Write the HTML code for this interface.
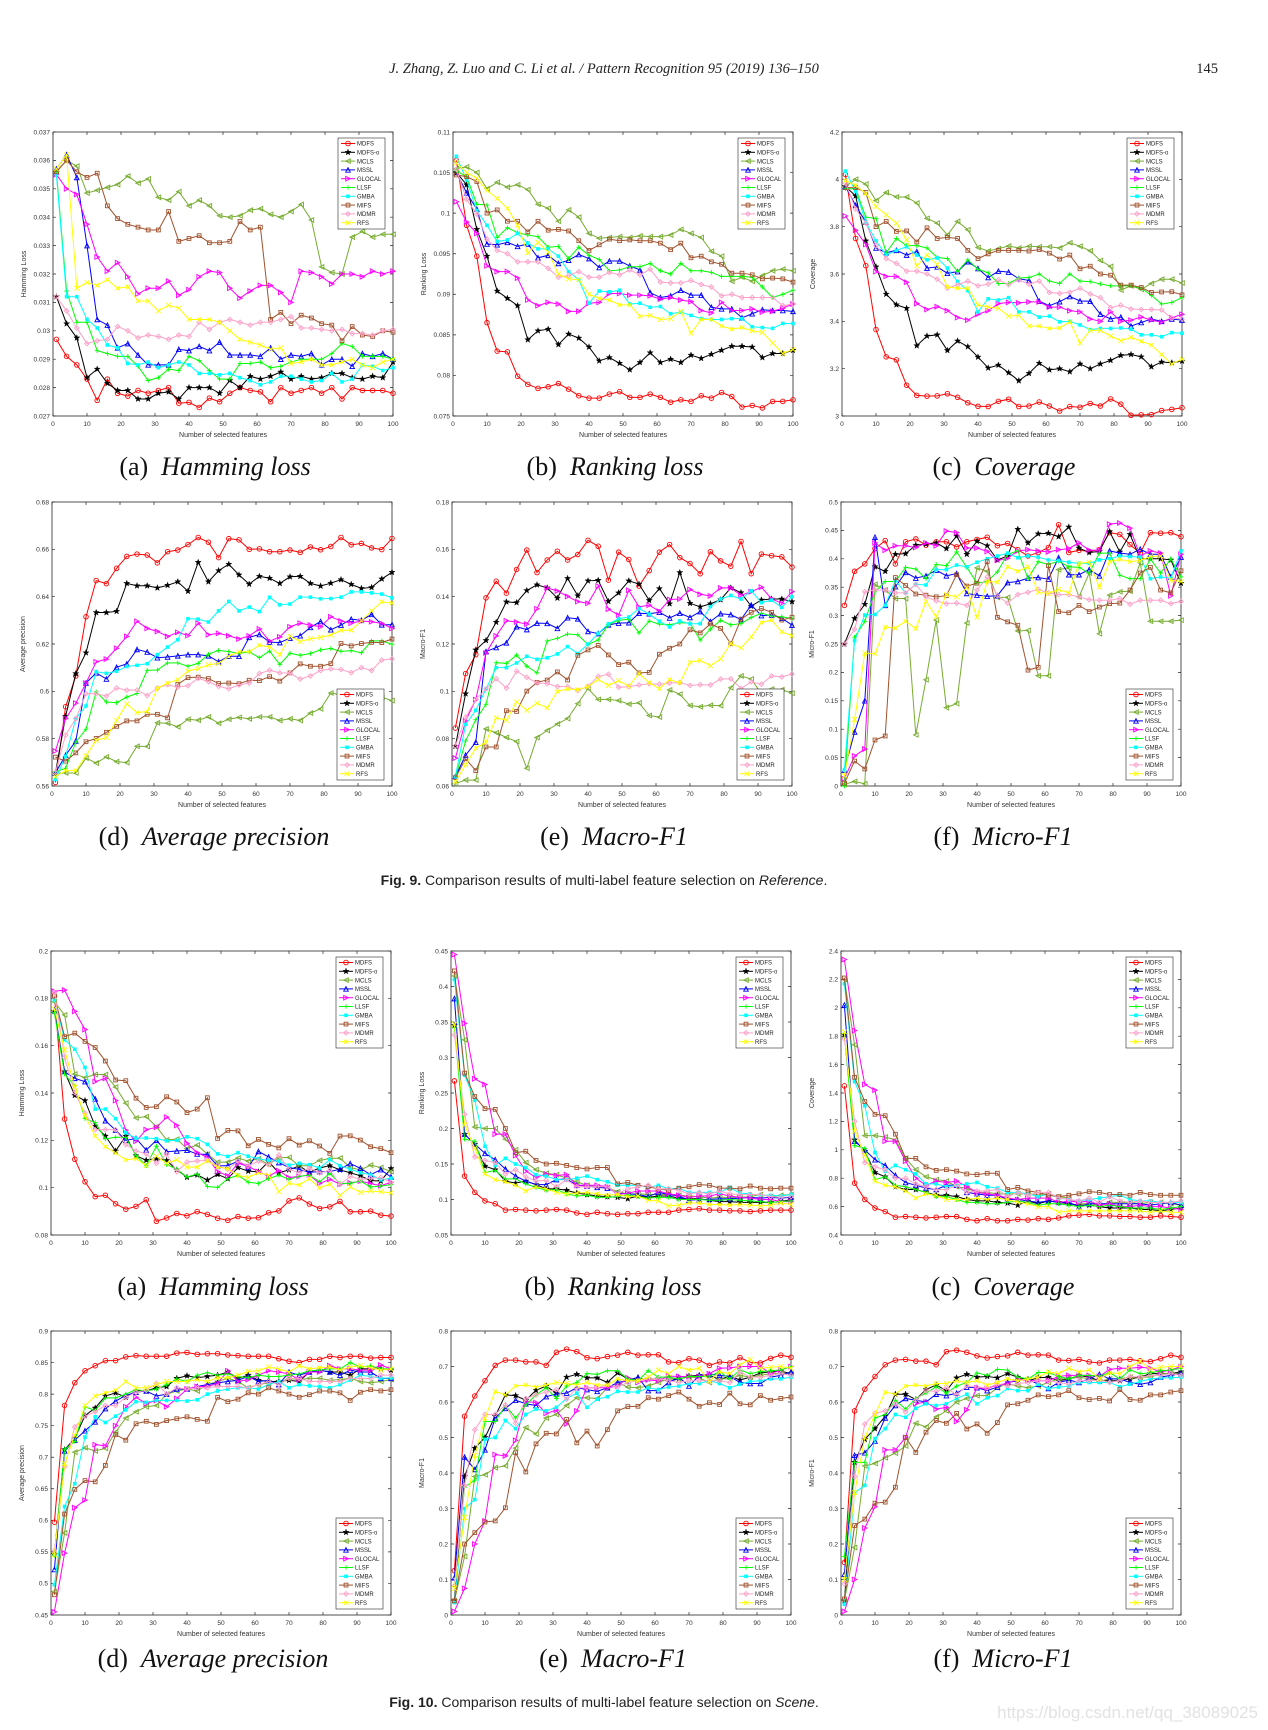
<!DOCTYPE html>
<html><head><meta charset="utf-8"><style>
html,body{margin:0;padding:0;background:#fff}
svg{display:block}
</style></head><body>
<svg id="page" xmlns="http://www.w3.org/2000/svg" width="1268" height="1730" viewBox="0 0 1268 1730">
<text x="604" y="73" text-anchor="middle" font-family="Liberation Serif, serif" font-size="14.5" font-style="italic" fill="#222">J. Zhang, Z. Luo and C. Li et al. / Pattern Recognition 95 (2019) 136–150</text>
<text x="1218" y="73" text-anchor="end" font-family="Liberation Serif, serif" font-size="14.5" fill="#222">145</text>
<text x="604" y="885" text-anchor="middle" font-family="Liberation Sans, sans-serif" font-size="14" fill="#222"><tspan font-weight="bold">Fig. 9.</tspan> Comparison results of multi-label feature selection on <tspan font-style="italic">Reference</tspan>.</text>
<text x="604" y="1707" text-anchor="middle" font-family="Liberation Sans, sans-serif" font-size="14" fill="#222"><tspan font-weight="bold">Fig. 10.</tspan> Comparison results of multi-label feature selection on <tspan font-style="italic">Scene</tspan>.</text>
<text x="1258" y="1718" text-anchor="end" font-family="Liberation Sans, sans-serif" font-size="17" fill="#e2e2e2">https://blog.csdn.net/qq_38089025</text>
<g id="charts"></g>
</svg>
<script>
const xValues = [1,4,7,10,13,16,19,22,25,28,31,34,37,40,43,46,49,52,55,58,61,64,67,70,73,76,79,82,85,88,91,94,97,100];
const seriesNames = ["MDFS","MDFS-o","MCLS","MSSL","GLOCAL","LLSF","GMBA","MIFS","MDMR","RFS"];
const seriesColors = ["#ff0000","#000000","#77ac30","#0000ff","#ff00ff","#00ff00","#00ffff","#a0522d","#ffa0c8","#ffff00"];
const seriesMarkers = ["circle","star","ltri","utri","rtri","plus","fsquare","square","diamond","x"];
const xTicks = [0,10,20,30,40,50,60,70,80,90,100];

// Fig 9 (a) Hamming loss
const f9aTicks = [0.027,0.028,0.029,0.03,0.031,0.032,0.033,0.034,0.035,0.036,0.037];
const f9a = [
[.0297,.0291,.0288,.0283,.02755,.0283,.0278,.0277,.0279,.0278,.0279,.0280,.02745,.02748,.0273,.02763,.0275,.0278,.0280,.0279,.02785,.0275,.0280,.0278,.0279,.0280,.0278,.0280,.0276,.0280,.0279,.0279,.0279,.0278],
[.0312,.03025,.02975,.02835,.02865,.02815,.0279,.0279,.0276,.0276,.0278,.02785,.0276,.0280,.0280,.0280,.0278,.02825,.0280,.0284,.0283,.0284,.02855,.0283,.0284,.0283,.02835,.0285,.0285,.02835,.0283,.0284,.02835,.0289],
[.0356,.0360,.0358,.03485,.03495,.03505,.03515,.03545,.0352,.03535,.0347,.0346,.0349,.0344,.0346,.0344,.03405,.0340,.03405,.03425,.0343,.0341,.0340,.0342,.03445,.0339,.03225,.03205,.0320,.0333,.0335,.0333,.0334,.0334],
[.0357,.0362,.0354,.0330,.0304,.0302,.0294,.02955,.02915,.0288,.0288,.0288,.02935,.0293,.02945,.0293,.0296,.02915,.02915,.02915,.0291,.0294,.0290,.02915,.0291,.0292,.0288,.0290,.0290,.02875,.0292,.0291,.0292,.0290],
[.0355,.0350,.0348,.03375,.0326,.0321,.0324,.0319,.0313,.0315,.0315,.03175,.03125,.03145,.0319,.0321,.03205,.0315,.03115,.0314,.0316,.0316,.03135,.0310,.0321,.03205,.0319,.03165,.0320,.0320,.0319,.0321,.0320,.0321],
[.0356,.0314,.0303,.0303,.0293,.0292,.0291,.0291,.02875,.02825,.02835,.02865,.0286,.0291,.02895,.0286,.0283,.0283,.02885,.02885,.0289,.0287,.02875,.0289,.0290,.0290,.0290,.0292,.02955,.02945,.0291,.0291,.0291,.0290],
[.0355,.0312,.0312,.0304,.0301,.0295,.0294,.02885,.0288,.0289,.0287,.0288,.0289,.0288,.0285,.0285,.02845,.0285,.02835,.02825,.0281,.0282,.0284,.0284,.0283,.0282,.02825,.0285,.0282,.0283,.0288,.02875,.0286,.0287],
[.0356,.0360,.0356,.0354,.03555,.0344,.03395,.03375,.03365,.03355,.03355,.0342,.03315,.03325,.03335,.0331,.0331,.03315,.03385,.03355,.03365,.0304,.03065,.03025,.03055,.03045,.03025,.0302,.02965,.03015,.02985,.0298,.0300,.02995],
[.0312,.0307,.0301,.02955,.02965,.0297,.03015,.0300,.02975,.02985,.0298,.0297,.02985,.0298,.0303,.03005,.0303,.0304,.0303,.0302,.0303,.0303,.0304,.0305,.0301,.0301,.03005,.0300,.03005,.0299,.0299,.02985,.0300,.03005],
[.0357,.0362,.0315,.0317,.0316,.0318,.0315,.03155,.03105,.03105,.0307,.0309,.0308,.0304,.0304,.0304,.0303,.0300,.0297,.0296,.0295,.02935,.0294,.02885,.0289,.0290,.0288,.0288,.0289,.0290,.0288,.0287,.0289,.0290]];

// Fig 9 (b) Ranking loss
const f9bTicks = [0.075,0.08,0.085,0.09,0.095,0.1,0.105,0.11];
const f9b = [
[.1065,.0985,.0947,.0865,.0830,.0829,.0799,.0789,.0784,.0786,.0790,.0783,.0775,.0772,.0772,.0777,.0780,.0773,.0773,.0777,.0773,.0767,.0770,.0768,.0775,.0772,.0779,.0774,.0761,.0763,.0760,.0768,.0768,.0770],
[.1050,.1035,.0980,.0947,.0904,.0895,.0886,.0844,.0855,.0857,.0838,.0851,.0846,.0835,.0818,.0822,.0815,.0807,.0816,.0828,.0816,.0820,.0816,.0825,.0821,.0826,.0831,.0836,.0836,.0835,.0822,.0827,.0827,.0831],
[.1055,.1057,.1050,.1030,.1038,.1032,.1035,.1029,.1011,.1006,.0990,.1004,.0995,.0975,.0969,.0970,.0971,.0970,.0972,.0971,.0971,.0973,.0980,.0975,.0970,.0953,.0947,.0916,.0921,.0916,.0923,.0929,.0931,.0929],
[.1050,.1025,.1005,.0962,.0961,.0964,.0959,.0962,.0945,.0948,.0938,.0942,.0949,.0944,.0933,.0941,.0941,.0935,.0930,.0902,.0896,.0898,.0905,.0899,.0899,.0884,.0882,.0882,.0871,.0876,.0881,.0880,.0880,.0879],
[.1014,.0989,.0975,.0935,.0928,.0928,.0920,.0893,.0886,.0890,.0888,.0879,.0879,.0889,.0890,.0901,.0901,.0899,.0899,.0898,.0894,.0896,.0893,.0891,.0880,.0877,.0890,.0880,.0880,.0882,.0878,.0879,.0883,.0888],
[.1052,.1045,.1011,.1010,.0970,.0982,.0976,.0973,.0971,.0958,.0959,.0944,.0958,.0948,.0943,.0929,.0930,.0934,.0934,.0938,.0929,.0925,.0938,.0929,.0929,.0927,.0922,.0922,.0922,.0921,.0909,.0896,.0900,.0905],
[.1070,.1041,.1003,.0985,.0965,.0967,.0975,.0963,.0956,.0956,.0947,.0928,.0918,.0889,.0904,.0903,.0905,.0888,.0889,.0884,.0885,.0876,.0878,.0874,.0870,.0869,.0869,.0870,.0870,.0860,.0859,.0858,.0864,.0864],
[.1047,.1045,.1039,.1000,.1004,.0990,.0990,.0977,.0990,.0979,.0980,.0978,.0966,.0954,.0961,.0968,.0966,.0967,.0966,.0966,.0963,.0955,.0963,.0945,.0947,.0940,.0937,.0926,.0926,.0924,.0919,.0920,.0919,.0915],
[.1054,.1017,.0999,.0968,.0954,.0950,.0940,.0940,.0940,.0932,.0921,.0923,.0928,.0921,.0921,.0927,.0924,.0930,.0924,.0931,.0915,.0914,.0914,.0917,.0912,.0909,.0898,.0900,.0896,.0896,.0896,.0896,.0886,.0888],
[.1062,.1050,.1043,.1028,.1018,.1006,.0985,.0951,.0964,.0952,.0925,.0919,.0918,.0900,.0895,.0893,.0887,.0887,.0873,.0874,.0869,.0870,.0879,.0852,.0869,.0869,.0861,.0857,.0859,.0855,.0853,.0840,.0827,.0832]];

// Fig 9 (c) Coverage
const f9cTicks = [3,3.2,3.4,3.6,3.8,4,4.2];
const f9c = [
[4.02,3.75,3.635,3.365,3.25,3.237,3.13,3.087,3.084,3.085,3.094,3.079,3.056,3.041,3.04,3.062,3.071,3.04,3.042,3.059,3.042,3.021,3.04,3.037,3.053,3.042,3.072,3.05,3.003,3.005,3.006,3.023,3.028,3.035],
[3.97,3.93,3.74,3.63,3.515,3.47,3.455,3.297,3.338,3.343,3.277,3.317,3.293,3.249,3.203,3.215,3.183,3.149,3.18,3.223,3.195,3.2,3.187,3.22,3.2,3.22,3.235,3.256,3.26,3.25,3.208,3.228,3.225,3.232],
[3.97,4.0,3.98,3.91,3.944,3.926,3.925,3.9,3.835,3.815,3.765,3.822,3.787,3.712,3.697,3.707,3.718,3.71,3.717,3.715,3.715,3.71,3.732,3.717,3.698,3.657,3.632,3.532,3.55,3.535,3.56,3.578,3.578,3.562],
[3.97,3.89,3.82,3.71,3.69,3.70,3.68,3.695,3.625,3.63,3.603,3.61,3.652,3.623,3.585,3.612,3.608,3.58,3.573,3.485,3.466,3.483,3.505,3.486,3.485,3.43,3.41,3.418,3.38,3.395,3.41,3.40,3.41,3.405],
[3.845,3.785,3.725,3.61,3.59,3.59,3.565,3.475,3.45,3.462,3.445,3.416,3.405,3.43,3.445,3.475,3.48,3.478,3.482,3.482,3.46,3.46,3.445,3.44,3.41,3.40,3.44,3.40,3.405,3.418,3.405,3.396,3.415,3.43],
[3.96,3.96,3.84,3.835,3.69,3.75,3.72,3.72,3.71,3.67,3.665,3.61,3.66,3.62,3.605,3.56,3.56,3.583,3.585,3.60,3.57,3.56,3.60,3.57,3.568,3.558,3.55,3.55,3.55,3.54,3.51,3.473,3.48,3.50],
[4.035,3.95,3.82,3.74,3.68,3.70,3.715,3.68,3.66,3.668,3.625,3.568,3.53,3.44,3.495,3.49,3.5,3.44,3.44,3.418,3.422,3.398,3.40,3.385,3.365,3.37,3.37,3.372,3.367,3.343,3.343,3.335,3.352,3.35],
[3.965,3.965,3.945,3.80,3.822,3.78,3.782,3.735,3.795,3.75,3.755,3.75,3.70,3.665,3.685,3.70,3.70,3.70,3.697,3.703,3.688,3.663,3.68,3.622,3.633,3.60,3.595,3.553,3.553,3.543,3.522,3.524,3.525,3.512],
[3.985,3.875,3.815,3.72,3.665,3.645,3.612,3.612,3.60,3.578,3.54,3.555,3.57,3.55,3.557,3.575,3.555,3.575,3.557,3.57,3.522,3.518,3.523,3.54,3.516,3.50,3.458,3.468,3.452,3.45,3.45,3.448,3.413,3.41],
[3.995,3.975,3.94,3.885,3.85,3.815,3.745,3.635,3.68,3.64,3.545,3.54,3.54,3.47,3.46,3.455,3.422,3.425,3.38,3.38,3.37,3.372,3.398,3.308,3.362,3.362,3.338,3.318,3.332,3.316,3.30,3.26,3.22,3.24]];

// Fig 9 (d) Average precision
const f9dTicks = [0.56,0.58,0.6,0.62,0.64,0.66,0.68];
const f9d = [
[.5615,.5935,.6065,.6315,.6468,.6455,.652,.657,.658,.6576,.6543,.659,.6597,.662,.665,.663,.6565,.6645,.664,.66,.6602,.659,.659,.6597,.6587,.661,.6598,.6612,.665,.6619,.6625,.6606,.6599,.6646],
[.5655,.5895,.6075,.6163,.6333,.6333,.6338,.6456,.6446,.6446,.6437,.6448,.6463,.6423,.6545,.6463,.6510,.6537,.6492,.6453,.6486,.6478,.6456,.6484,.6486,.6456,.6445,.6457,.6472,.6452,.6435,.6439,.6475,.6503],
[.5655,.5655,.5655,.5718,.5697,.5723,.5703,.5699,.5768,.5767,.5867,.5865,.585,.5882,.5878,.5892,.5865,.5882,.589,.5884,.5892,.5892,.5877,.5884,.5877,.5908,.5926,.5993,.5985,.598,.597,.5975,.5975,.5961],
[.5655,.573,.579,.6035,.6078,.6052,.6102,.6116,.6177,.6166,.6142,.6145,.615,.6155,.6155,.615,.6125,.6148,.6148,.6228,.624,.6208,.6206,.6225,.6235,.627,.6295,.626,.628,.6305,.63,.6325,.6281,.6282],
[.5748,.5885,.595,.6035,.6125,.6136,.6182,.6232,.6296,.6266,.6253,.6232,.6249,.6236,.6288,.6239,.6245,.6235,.6221,.6234,.6264,.6212,.623,.6273,.6288,.628,.6273,.6315,.6297,.6288,.6297,.6294,.6287,.6266],
[.566,.5675,.5785,.584,.5998,.5955,.5952,.5976,.5991,.6089,.609,.612,.612,.6106,.6118,.6157,.6173,.6168,.616,.6167,.6142,.617,.6113,.6161,.6152,.616,.6175,.6181,.6169,.6172,.6163,.6213,.6213,.6199],
[.5628,.5725,.5885,.5938,.6083,.6076,.6085,.6105,.611,.6117,.6155,.6187,.6218,.6307,.6305,.6293,.634,.638,.634,.6356,.6337,.6397,.6366,.6369,.6398,.6398,.6391,.6392,.6398,.642,.642,.6416,.6411,.6395],
[.5722,.5705,.574,.5787,.5801,.5827,.5852,.5875,.5875,.5903,.5903,.5888,.603,.6058,.606,.6054,.6033,.6035,.6032,.6047,.6045,.6062,.6043,.6078,.6116,.6106,.6106,.6117,.6202,.6192,.6202,.6207,.6206,.6221],
[.5658,.5815,.5885,.599,.599,.598,.6014,.6005,.6005,.5982,.6014,.6028,.6018,.6024,.6055,.6041,.6021,.6011,.6027,.6035,.6075,.6089,.6078,.6077,.6052,.6065,.6088,.6095,.6092,.6079,.61,.6088,.6132,.6137],
[.564,.5665,.5665,.5728,.5793,.5805,.5877,.5947,.591,.5915,.6013,.6035,.6049,.6086,.6096,.6112,.6118,.6148,.6167,.6167,.6195,.6188,.6155,.6233,.621,.6222,.6228,.6238,.6258,.6258,.6298,.634,.6378,.6373]];

// Fig 9 (e) Macro-F1
const f9eTicks = [0.06,0.08,0.1,0.12,0.14,0.16,0.18];
const f9e = [
[.0845,.1075,.1155,.1395,.1465,.1415,.1515,.1597,.1502,.1555,.1592,.1555,.1578,.1638,.1613,.1470,.1588,.1557,.1445,.1510,.1588,.1620,.1565,.1540,.1497,.1590,.1551,.1529,.1633,.1497,.1580,.1573,.1568,.1525],
[.0768,.0990,.1175,.1215,.1292,.1378,.1375,.1426,.1450,.1437,.1394,.1477,.1404,.1467,.1469,.1380,.1416,.1467,.1453,.1384,.1434,.1370,.1502,.1372,.1357,.1370,.1387,.1437,.1417,.1360,.1386,.1390,.1390,.1379],
[.0610,.0625,.0625,.0841,.0825,.0805,.0788,.0675,.0805,.0835,.0862,.0885,.0948,.1012,.0966,.0966,.0961,.0946,.0951,.0898,.0891,.1006,.0988,.0940,.0935,.0941,.0939,.1015,.1065,.1052,.0990,.1010,.1007,.0992],
[.0640,.0730,.0785,.1168,.1185,.1205,.1273,.1261,.1288,.1287,.1266,.1311,.1306,.1253,.1244,.1281,.1288,.1290,.1330,.1328,.1334,.1310,.1330,.1312,.1337,.1295,.1328,.1324,.1303,.1365,.1320,.1322,.1309,.1280],
[.0718,.0875,.0965,.1162,.1234,.1298,.1293,.1284,.1349,.1437,.1424,.1401,.1379,.1372,.1445,.1347,.1322,.1427,.1357,.1364,.1338,.1388,.1390,.1430,.1410,.1403,.1437,.1437,.1406,.1421,.1440,.1391,.1372,.1421],
[.0635,.0790,.0880,.0945,.1121,.1118,.1153,.1106,.1078,.1213,.1224,.1242,.1239,.1198,.1217,.1282,.1300,.1305,.1247,.1297,.1284,.1282,.1290,.1288,.1217,.1263,.1300,.1281,.1286,.1312,.1330,.1318,.1315,.1308],
[.0640,.0860,.0920,.1010,.1100,.1100,.1120,.1148,.1135,.1142,.1158,.1189,.1160,.1200,.1245,.1285,.1307,.1314,.1350,.1326,.1296,.1272,.1297,.1285,.1286,.1358,.1390,.1405,.1390,.1425,.1375,.1385,.1355,.1400],
[.0635,.0715,.0665,.0765,.0765,.0918,.0915,.1001,.1038,.1048,.1082,.1048,.1152,.1175,.1194,.1154,.1113,.1123,.1078,.1080,.1157,.1182,.1200,.1260,.1247,.1285,.1266,.1201,.1305,.1334,.1350,.1334,.1301,.1313],
[.0770,.0890,.0965,.1010,.1053,.1014,.1085,.1059,.1035,.1033,.1020,.1020,.1003,.1022,.1063,.1072,.1017,.1020,.1027,.1032,.1030,.1035,.1037,.1025,.1028,.1027,.1052,.1053,.1012,.1040,.1030,.1065,.1061,.1073],
[.0618,.0690,.0760,.0785,.0888,.0878,.0955,.0920,.0950,.0930,.1000,.1010,.1007,.1020,.1050,.1025,.1045,.1022,.1075,.1037,.1011,.1050,.1035,.1123,.1131,.1108,.1137,.1202,.1184,.1230,.1291,.1301,.1251,.1235]];

// Fig 9 (f) Micro-F1
const f9fTicks = [0,0.05,0.1,0.15,0.2,0.25,0.3,0.35,0.4,0.45,0.5];
const f9f = [
[.318,.378,.391,.418,.432,.391,.43,.435,.424,.43,.43,.421,.43,.434,.438,.423,.427,.416,.405,.411,.42,.46,.411,.415,.413,.416,.446,.443,.425,.41,.446,.445,.446,.439],
[.25,.295,.32,.386,.378,.408,.409,.424,.426,.428,.418,.44,.408,.431,.423,.398,.405,.452,.428,.444,.445,.439,.456,.419,.411,.413,.448,.412,.443,.40,.40,.40,.398,.357],
[.003,.008,.004,.355,.345,.33,.33,.09,.187,.292,.138,.145,.287,.384,.378,.332,.332,.273,.274,.194,.194,.381,.384,.333,.375,.268,.336,.342,.343,.393,.29,.29,.29,.292],
[.028,.095,.15,.438,.318,.351,.376,.366,.37,.38,.37,.374,.339,.336,.334,.335,.358,.36,.366,.367,.364,.402,.372,.372,.381,.37,.414,.41,.408,.417,.408,.408,.368,.403],
[.013,.053,.065,.428,.415,.423,.423,.42,.428,.423,.449,.446,.419,.419,.413,.397,.401,.414,.416,.414,.412,.416,.418,.428,.415,.415,.461,.463,.454,.405,.414,.41,.335,.408],
[.0,.262,.29,.342,.36,.36,.385,.382,.365,.39,.388,.412,.385,.357,.36,.377,.408,.414,.365,.395,.39,.396,.386,.385,.375,.41,.41,.371,.365,.365,.40,.375,.40,.368],
[.028,.256,.301,.302,.318,.362,.34,.355,.354,.381,.381,.389,.386,.394,.40,.405,.41,.402,.405,.403,.398,.397,.394,.392,.392,.398,.40,.405,.404,.403,.365,.368,.366,.414],
[.005,.044,.03,.081,.088,.367,.353,.338,.336,.333,.335,.372,.352,.357,.395,.297,.289,.283,.204,.209,.388,.307,.305,.318,.307,.315,.321,.322,.345,.375,.385,.345,.34,.379],
[.25,.276,.342,.345,.345,.34,.34,.355,.333,.326,.321,.322,.318,.345,.368,.335,.322,.337,.341,.346,.34,.337,.337,.333,.328,.327,.327,.33,.32,.327,.327,.327,.321,.325],
[.018,.117,.234,.233,.28,.278,.29,.277,.325,.298,.337,.333,.349,.297,.36,.359,.386,.378,.386,.341,.339,.346,.34,.392,.394,.35,.395,.399,.395,.397,.404,.405,.362,.36]];

// Fig 10 (a) Hamming loss
const f10aTicks = [0.08,0.1,0.12,0.14,0.16,0.18,0.2];
const f10a = [
[.181,.129,.112,.1025,.0962,.0968,.0932,.0909,.0921,.0949,.0858,.0872,.0891,.0881,.0899,.0887,.0871,.0862,.0878,.0871,.0873,.0894,.0902,.0944,.0957,.0931,.0912,.0919,.0942,.0898,.0898,.0901,.0884,.0880],
[.1745,.149,.139,.1368,.126,.1218,.1155,.1218,.1135,.1116,.1123,.1115,.1075,.1044,.1054,.1032,.1056,.1038,.1085,.107,.1067,.111,.1063,.1075,.1092,.1065,.1083,.1093,.1075,.1063,.105,.103,.1028,.1081],
[.1785,.173,.148,.1465,.1478,.1478,.1425,.1357,.1295,.13,.1258,.1202,.1205,.1165,.118,.1142,.1108,.1108,.1125,.1112,.1122,.1098,.1126,.1128,.1092,.1093,.1115,.1123,.1125,.1085,.1075,.1095,.1085,.1068],
[.175,.149,.1462,.1448,.1375,.1283,.1243,.12,.1208,.1159,.12,.1152,.1155,.1158,.1142,.114,.1092,.1093,.1112,.1085,.1153,.113,.1106,.1085,.1077,.1065,.1068,.1068,.1078,.1102,.1082,.1055,.1076,.1045],
[.183,.1835,.1745,.1668,.1448,.1462,.1368,.1243,.1196,.1245,.1255,.1298,.1263,.1187,.1148,.1128,.1068,.105,.1103,.109,.1068,.1048,.1072,.1043,.1048,.1053,.1018,.1035,.1015,.102,.1028,.1017,.1008,.1023],
[.174,.148,.143,.1292,.1275,.1206,.1213,.1212,.1136,.1093,.1175,.1098,.1078,.1045,.1058,.1005,.1001,.1038,.1052,.1023,.1018,.1038,.1053,.1035,.1048,.1053,.1025,.106,.1018,.1018,.1028,.1003,.1007,.1013],
[.1795,.1625,.1585,.1508,.1332,.1332,.1292,.1232,.1209,.121,.1207,.1198,.12,.1215,.1207,.1183,.1143,.1132,.1148,.1133,.1122,.1115,.1112,.1095,.1103,.1097,.1083,.1118,.1093,.1078,.1063,.1055,.1033,.104],
[.181,.1638,.1653,.1618,.1592,.1535,.1455,.1452,.1378,.1339,.1342,.1384,.1362,.1317,.1332,.138,.1208,.1242,.124,.1177,.1204,.1183,.1168,.1207,.118,.1198,.1176,.1145,.1218,.1219,.1201,.1173,.1165,.1148],
[.1825,.155,.1402,.1315,.1245,.1245,.1245,.1182,.1155,.1143,.1103,.1142,.1068,.1108,.1113,.1115,.1092,.1078,.1112,.1092,.1112,.1097,.1138,.1078,.1062,.1083,.1062,.1073,.1013,.1048,.1035,.104,.1043,.1022],
[.1755,.1582,.1425,.1303,.1218,.1173,.1147,.1118,.1123,.1093,.1133,.1103,.1118,.1087,.1087,.1113,.1087,.108,.1052,.1043,.1063,.1053,.0983,.1018,.1012,.1037,.0999,.1015,.0967,.1003,.098,.0986,.0983,.0978]];

// Fig 10 (b) Ranking loss
const f10bTicks = [0.05,0.1,0.15,0.2,0.25,0.3,0.35,0.4,0.45];
const f10b = [
[.267,.133,.11,.098,.094,.085,.086,.085,.084,.085,.086,.085,.081,.079,.082,.080,.079,.080,.080,.082,.082,.082,.085,.086,.087,.085,.085,.084,.084,.083,.084,.085,.085,.085],
[.345,.192,.178,.147,.142,.126,.123,.126,.121,.115,.115,.113,.109,.107,.105,.104,.103,.101,.105,.103,.105,.105,.102,.101,.101,.099,.097,.097,.096,.096,.096,.096,.097,.100],
[.415,.325,.202,.2,.2,.185,.17,.152,.142,.137,.135,.13,.125,.12,.118,.117,.111,.108,.108,.107,.107,.107,.106,.105,.104,.102,.103,.103,.103,.104,.107,.104,.106,.107],
[.383,.192,.178,.165,.156,.143,.133,.126,.121,.121,.128,.129,.12,.119,.117,.116,.109,.108,.107,.104,.11,.107,.105,.099,.1,.1,.101,.101,.102,.103,.102,.103,.102,.103],
[.445,.348,.27,.262,.192,.192,.162,.14,.131,.136,.134,.135,.12,.12,.12,.118,.107,.109,.112,.112,.112,.108,.106,.103,.105,.105,.108,.105,.103,.102,.1,.1,.097,.097],
[.342,.185,.182,.138,.141,.129,.129,.122,.117,.113,.114,.108,.105,.106,.103,.103,.104,.107,.104,.102,.103,.103,.1,.1,.1,.099,.099,.1,.099,.098,.097,.096,.097,.098],
[.41,.275,.24,.175,.148,.158,.15,.145,.135,.133,.128,.128,.13,.133,.128,.125,.12,.12,.12,.117,.12,.115,.116,.11,.11,.11,.11,.117,.109,.108,.106,.106,.105,.107],
[.422,.278,.245,.228,.227,.2,.166,.168,.155,.15,.151,.148,.145,.143,.145,.145,.122,.124,.12,.118,.115,.113,.116,.118,.121,.12,.116,.116,.115,.119,.116,.115,.116,.116],
[.332,.22,.16,.155,.152,.136,.142,.132,.126,.127,.118,.128,.118,.118,.118,.118,.108,.115,.118,.12,.115,.115,.113,.108,.11,.108,.112,.108,.107,.107,.107,.104,.103,.104],
[.347,.205,.172,.136,.128,.125,.12,.112,.118,.115,.11,.108,.109,.11,.108,.106,.107,.104,.105,.099,.098,.091,.092,.095,.095,.093,.093,.092,.093,.092,.091,.092,.095,.093]];

// Fig 10 (c) Coverage
const f10cTicks = [0.4,0.6,0.8,1,1.2,1.4,1.6,1.8,2,2.2,2.4];
const f10c = [
[1.45,.765,.65,.59,.565,.525,.53,.525,.52,.525,.53,.53,.51,.5,.515,.5,.5,.51,.505,.515,.51,.52,.535,.54,.545,.535,.535,.53,.53,.525,.525,.535,.53,.525],
[1.81,1.07,.99,.84,.81,.74,.72,.72,.7,.68,.68,.67,.65,.64,.64,.63,.625,.61,.64,.62,.64,.63,.62,.61,.61,.6,.59,.59,.59,.58,.58,.57,.58,.59],
[2.2,1.74,1.1,1.1,1.09,1.07,.94,.86,.81,.79,.78,.74,.73,.7,.7,.69,.69,.69,.69,.68,.69,.67,.66,.62,.62,.61,.63,.63,.63,.62,.63,.63,.62,.61],
[2.02,1.06,1.0,.93,.89,.82,.77,.75,.73,.72,.75,.75,.7,.69,.68,.68,.65,.65,.64,.63,.64,.63,.63,.6,.62,.62,.62,.62,.62,.62,.61,.62,.63,.61],
[2.34,1.84,1.46,1.42,1.06,1.06,.92,.8,.75,.78,.77,.78,.74,.7,.69,.68,.66,.65,.66,.66,.66,.63,.64,.63,.64,.61,.62,.6,.6,.61,.6,.6,.59,.58],
[1.82,1.03,1.01,.79,.81,.75,.74,.72,.7,.67,.67,.65,.63,.63,.62,.62,.63,.64,.63,.61,.62,.62,.61,.6,.61,.6,.61,.6,.59,.59,.59,.58,.59,.6],
[2.17,1.48,1.31,.98,.85,.89,.86,.83,.76,.76,.74,.75,.76,.77,.74,.73,.7,.7,.69,.67,.69,.66,.65,.64,.65,.66,.67,.68,.65,.64,.64,.63,.63,.63],
[2.21,1.51,1.34,1.25,1.24,1.11,.94,.94,.88,.855,.86,.85,.83,.825,.835,.835,.72,.735,.71,.7,.68,.67,.68,.69,.705,.7,.685,.685,.68,.7,.685,.68,.68,.68],
[1.78,1.2,.91,.88,.86,.8,.8,.76,.74,.72,.72,.75,.7,.71,.71,.72,.67,.7,.68,.7,.7,.66,.65,.64,.66,.63,.67,.64,.63,.64,.63,.63,.63,.64],
[1.83,1.13,.96,.78,.75,.74,.71,.66,.69,.68,.65,.65,.65,.66,.65,.66,.65,.63,.62,.6,.6,.56,.57,.57,.57,.57,.57,.57,.57,.57,.56,.57,.56,.56]];

// Fig 10 (d) Average precision
const f10dTicks = [0.45,0.5,0.55,0.6,0.65,0.7,0.75,0.8,0.85,0.9];
const f10d = [
[.597,.782,.818,.837,.845,.853,.853,.859,.861,.86,.86,.86,.865,.866,.863,.864,.864,.862,.861,.86,.86,.86,.856,.852,.85,.855,.855,.86,.858,.86,.86,.857,.858,.858],
[.546,.712,.73,.766,.778,.797,.802,.795,.805,.805,.81,.812,.825,.829,.826,.828,.83,.835,.825,.83,.822,.82,.82,.822,.82,.835,.838,.835,.835,.83,.84,.84,.84,.838],
[.487,.58,.708,.715,.71,.714,.74,.762,.772,.78,.782,.8,.805,.808,.805,.815,.82,.825,.82,.81,.815,.818,.818,.825,.823,.825,.825,.822,.823,.825,.82,.818,.82,.823],
[.522,.71,.727,.742,.756,.777,.789,.798,.803,.805,.797,.8,.808,.808,.812,.815,.818,.82,.822,.828,.82,.822,.815,.835,.83,.835,.838,.835,.83,.838,.835,.835,.825,.825],
[.455,.548,.62,.632,.72,.718,.75,.78,.795,.785,.79,.78,.793,.808,.812,.812,.817,.837,.82,.823,.83,.837,.835,.832,.823,.835,.835,.845,.84,.84,.838,.838,.846,.84],
[.545,.712,.725,.78,.774,.794,.794,.8,.807,.805,.808,.815,.824,.82,.83,.834,.83,.832,.828,.826,.83,.828,.828,.83,.832,.837,.838,.84,.84,.85,.843,.845,.84,.84],
[.498,.622,.658,.732,.764,.755,.765,.775,.788,.787,.79,.79,.79,.789,.791,.8,.805,.808,.81,.81,.808,.815,.82,.81,.815,.813,.812,.81,.815,.822,.83,.828,.825,.826],
[.482,.61,.649,.663,.661,.687,.736,.727,.753,.757,.752,.758,.761,.764,.76,.757,.795,.788,.792,.802,.8,.81,.805,.8,.795,.799,.805,.805,.802,.79,.803,.807,.805,.807],
[.552,.685,.748,.765,.772,.782,.782,.795,.803,.806,.817,.8,.81,.808,.81,.81,.812,.812,.812,.81,.815,.82,.815,.825,.825,.82,.82,.82,.82,.825,.825,.825,.83,.83],
[.545,.69,.735,.782,.797,.802,.806,.82,.81,.81,.815,.82,.82,.82,.823,.82,.826,.826,.83,.836,.837,.843,.84,.835,.845,.84,.842,.843,.838,.843,.845,.842,.838,.84]];

// Fig 10 (e) Macro-F1
const f10eTicks = [0,0.1,0.2,0.3,0.4,0.5,0.6,0.7,0.8];
const f10e = [
[.125,.56,.617,.66,.703,.718,.718,.713,.713,.703,.74,.749,.742,.725,.722,.728,.732,.74,.732,.733,.733,.713,.711,.722,.718,.703,.713,.71,.725,.712,.71,.723,.732,.726],
[.04,.39,.47,.5,.56,.62,.618,.605,.633,.645,.625,.67,.678,.668,.668,.655,.682,.665,.665,.665,.665,.658,.665,.673,.675,.675,.663,.673,.662,.67,.682,.685,.687,.68],
[.04,.165,.39,.395,.415,.42,.47,.528,.51,.555,.565,.59,.612,.612,.61,.64,.655,.642,.64,.645,.655,.665,.665,.67,.668,.655,.665,.665,.675,.67,.675,.68,.68,.68],
[.105,.445,.41,.465,.555,.582,.605,.595,.59,.615,.623,.625,.64,.635,.63,.64,.655,.66,.67,.632,.632,.655,.67,.645,.675,.678,.675,.672,.655,.652,.652,.67,.675,.685],
[.01,.075,.2,.265,.452,.448,.492,.602,.598,.568,.577,.538,.575,.64,.64,.64,.645,.668,.655,.662,.66,.673,.672,.672,.672,.68,.695,.696,.7,.7,.7,.68,.69,.7],
[.08,.36,.38,.545,.545,.59,.555,.592,.62,.64,.61,.645,.655,.68,.678,.688,.688,.665,.66,.688,.67,.67,.665,.672,.672,.673,.685,.665,.69,.68,.686,.688,.69,.7],
[.035,.3,.325,.495,.5,.548,.525,.565,.58,.575,.585,.61,.625,.585,.608,.615,.63,.628,.628,.64,.635,.642,.645,.652,.652,.66,.652,.64,.65,.658,.66,.665,.665,.67],
[.04,.2,.232,.262,.265,.302,.457,.403,.482,.512,.51,.551,.485,.518,.476,.522,.575,.587,.588,.612,.608,.618,.628,.608,.588,.598,.593,.625,.595,.592,.618,.605,.61,.614],
[.082,.365,.522,.565,.565,.592,.54,.61,.62,.628,.635,.608,.64,.64,.64,.648,.642,.655,.66,.665,.665,.66,.655,.66,.66,.66,.66,.655,.685,.67,.67,.675,.68,.675],
[.075,.275,.45,.555,.63,.62,.645,.648,.642,.648,.655,.652,.648,.655,.648,.648,.665,.66,.66,.67,.69,.68,.7,.69,.695,.658,.685,.68,.705,.72,.695,.698,.7,.695]];

// Fig 10 (f) Micro-F1
const f10fTicks = [0,0.1,0.2,0.3,0.4,0.5,0.6,0.7,0.8];
const f10f = [
[.148,.575,.636,.672,.705,.718,.72,.715,.715,.705,.742,.746,.74,.73,.724,.728,.73,.74,.732,.733,.732,.718,.717,.72,.713,.71,.718,.718,.72,.716,.714,.722,.732,.726],
[.04,.43,.495,.525,.56,.622,.622,.607,.635,.648,.632,.668,.678,.67,.672,.668,.68,.67,.66,.668,.67,.66,.665,.675,.67,.66,.66,.66,.665,.67,.68,.68,.68,.685],
[.04,.19,.42,.427,.443,.456,.476,.54,.53,.558,.575,.6,.61,.618,.618,.64,.652,.645,.64,.645,.655,.665,.665,.67,.665,.658,.665,.665,.67,.67,.67,.68,.68,.68],
[.115,.45,.457,.49,.555,.59,.61,.605,.6,.622,.618,.625,.642,.64,.632,.642,.655,.66,.665,.65,.638,.655,.662,.655,.665,.678,.665,.665,.655,.65,.655,.67,.675,.68],
[.01,.1,.245,.305,.465,.465,.5,.595,.6,.58,.585,.545,.578,.64,.638,.648,.652,.665,.66,.66,.66,.672,.675,.675,.675,.672,.692,.695,.695,.698,.695,.685,.69,.7],
[.165,.43,.43,.555,.565,.605,.58,.61,.625,.643,.625,.645,.655,.682,.675,.692,.69,.67,.665,.683,.683,.672,.665,.675,.675,.673,.683,.665,.69,.68,.682,.688,.69,.695],
[.03,.345,.365,.497,.525,.565,.557,.582,.595,.59,.595,.61,.622,.595,.612,.618,.638,.632,.632,.65,.638,.642,.645,.655,.655,.655,.655,.643,.65,.658,.665,.668,.668,.67],
[.045,.252,.27,.315,.318,.36,.5,.458,.515,.548,.54,.568,.524,.538,.512,.542,.592,.595,.605,.62,.615,.62,.632,.612,.607,.61,.603,.635,.607,.605,.62,.62,.628,.632],
[.088,.39,.538,.568,.575,.595,.572,.605,.632,.63,.64,.62,.645,.642,.64,.65,.645,.652,.655,.66,.66,.655,.65,.66,.66,.662,.655,.66,.672,.67,.675,.675,.68,.675],
[.1,.345,.5,.565,.628,.622,.645,.648,.645,.652,.652,.66,.655,.66,.648,.655,.665,.66,.665,.67,.685,.68,.695,.685,.69,.665,.682,.68,.7,.715,.692,.698,.7,.7]];

const NS = "http://www.w3.org/2000/svg";
function mk(tag, attrs, parent){
  const e = document.createElementNS(NS, tag);
  for (const k in attrs) e.setAttribute(k, attrs[k]);
  if (parent) parent.appendChild(e);
  return e;
}
function fmt(v){ return String(+v.toFixed(4)); }

function drawMarker(g, type, x, y, color){
  const s = 2.3;
  let m;
  if (type === "circle") m = mk("circle", {cx:x, cy:y, r:s, fill:"none", stroke:color, "stroke-width":0.9}, g);
  else if (type === "star") {
    let p = [];
    for (let i=0;i<10;i++){ const a = -Math.PI/2 + i*Math.PI/5; const r = i%2===0 ? 3.2 : 1.3; p.push((x+r*Math.cos(a)).toFixed(2)+","+(y+r*Math.sin(a)).toFixed(2)); }
    m = mk("polygon", {points:p.join(" "), fill:color, stroke:color, "stroke-width":0.4}, g);
  }
  else if (type === "ltri") m = mk("polygon", {points:`${x-s},${y} ${x+s},${y-s} ${x+s},${y+s}`, fill:"none", stroke:color, "stroke-width":0.9}, g);
  else if (type === "rtri") m = mk("polygon", {points:`${x+s},${y} ${x-s},${y-s} ${x-s},${y+s}`, fill:"none", stroke:color, "stroke-width":0.9}, g);
  else if (type === "utri") m = mk("polygon", {points:`${x},${y-s} ${x-s},${y+s} ${x+s},${y+s}`, fill:"none", stroke:color, "stroke-width":0.9}, g);
  else if (type === "plus") m = mk("path", {d:`M${x-s},${y}H${x+s}M${x},${y-s}V${y+s}`, stroke:color, "stroke-width":0.9}, g);
  else if (type === "fsquare") m = mk("rect", {x:x-1.8, y:y-1.8, width:3.6, height:3.6, fill:color}, g);
  else if (type === "square") m = mk("rect", {x:x-1.9, y:y-1.9, width:3.8, height:3.8, fill:"none", stroke:color, "stroke-width":0.9}, g);
  else if (type === "diamond") m = mk("polygon", {points:`${x},${y-s} ${x+s},${y} ${x},${y+s} ${x-s},${y}`, fill:"none", stroke:color, "stroke-width":0.9}, g);
  else m = mk("path", {d:`M${x-s},${y-s}L${x+s},${y+s}M${x-s},${y+s}L${x+s},${y-s}`, stroke:color, "stroke-width":0.9}, g);
  return m;
}

const root = document.getElementById("charts");
function drawChart(id, left, top, ticks, series, ylabel, legendPos, capLetter, capName, capY){
  const W = 340, H = 284;
  const g = mk("g", {}, root);
  
  
  const ymin = ticks[0], ymax = ticks[ticks.length-1];
  const xs = v => left + v/100*W;
  const ys = v => top + H - (v - ymin)/(ymax - ymin)*H;
  mk("rect", {x:left, y:top, width:W, height:H, fill:"#fff", stroke:"#262626", "stroke-width":0.8}, g);
  const tickG = mk("g", {}, g);
  
  
  xTicks.forEach(t => {
    const x = xs(t);
    mk("path", {d:`M${x},${top+H}v-3M${x},${top}v3`, stroke:"#262626", "stroke-width":0.7}, tickG);
    const tx = mk("text", {x:x, y:top+H+10, "text-anchor":"middle", "font-family":"Liberation Sans, sans-serif", "font-size":6.6, fill:"#333"}, tickG);
    tx.textContent = t;
  });
  ticks.forEach(t => {
    const y = ys(t);
    mk("path", {d:`M${left},${y}h3M${left+W},${y}h-3`, stroke:"#262626", "stroke-width":0.7}, tickG);
    const tx = mk("text", {x:left-3, y:y+2.3, "text-anchor":"end", "font-family":"Liberation Sans, sans-serif", "font-size":6.6, fill:"#333"}, tickG);
    tx.textContent = fmt(t);
  });
  const xl = mk("text", {x:left+W/2, y:top+H+21, "text-anchor":"middle", "font-family":"Liberation Sans, sans-serif", "font-size":7, fill:"#333"}, g);
  
  
  xl.textContent = "Number of selected features";
  const yl = mk("text", {x:0, y:0, "text-anchor":"middle", "font-family":"Liberation Sans, sans-serif", "font-size":7, fill:"#333", transform:`translate(${left-27},${top+H/2}) rotate(-90)`}, g);
  
  
  yl.textContent = ylabel;
  series.forEach((vals, si) => {
    const sg = mk("g", {}, g);
    
    
    const pts = vals.map((v,i) => xs(xValues[i]).toFixed(2) + "," + ys(v).toFixed(2));
    mk("polyline", {points:pts.join(" "), fill:"none", stroke:seriesColors[si], "stroke-width":1}, sg);
    vals.forEach((v,i) => drawMarker(sg, seriesMarkers[si], xs(xValues[i]), ys(v), seriesColors[si]));
  });
  const lw = 47, lh = 91;
  const lx = left + W - lw - 8;
  const ly = legendPos === "top" ? top + 6 : top + H - lh - 6;
  const lg = mk("g", {}, g);
  
  
  mk("rect", {x:lx, y:ly, width:lw, height:lh, fill:"#fff", stroke:"#262626", "stroke-width":0.6}, lg);
  seriesNames.forEach((n, si) => {
    const ey = ly + 5.5 + si*8.8;
    const eg = mk("g", {}, lg);
    
    
    mk("path", {d:`M${lx+3},${ey}h14`, stroke:seriesColors[si], "stroke-width":1}, eg);
    drawMarker(eg, seriesMarkers[si], lx+10, ey, seriesColors[si]);
    const t = mk("text", {x:lx+19, y:ey+2.2, "font-family":"Liberation Sans, sans-serif", "font-size":6, fill:"#222"}, eg);
    t.textContent = n;
  });
  const cap = mk("text", {x:left+W/2-8, y:capY, "text-anchor":"middle", "font-family":"Liberation Serif, serif", "font-size":26, fill:"#111"}, g);
  
  
  const t1 = mk("tspan", {}, cap); t1.textContent = "(" + capLetter + ")\u00a0\u00a0";
  const t2 = mk("tspan", {"font-style":"italic"}, cap); t2.textContent = capName;
}

drawChart("fig9a", 53, 132, f9aTicks, f9a, "Hamming Loss", "top", "a", "Hamming loss", 475);
drawChart("fig9b", 453, 132, f9bTicks, f9b, "Ranking Loss", "top", "b", "Ranking loss", 475);
drawChart("fig9c", 842, 132, f9cTicks, f9c, "Coverage", "top", "c", "Coverage", 475);
drawChart("fig9d", 52, 502, f9dTicks, f9d, "Average precision", "bottom", "d", "Average precision", 845);
drawChart("fig9e", 452, 502, f9eTicks, f9e, "Macro-F1", "bottom", "e", "Macro-F1", 845);
drawChart("fig9f", 841, 502, f9fTicks, f9f, "Micro-F1", "bottom", "f", "Micro-F1", 845);
drawChart("fig10a", 51, 951, f10aTicks, f10a, "Hamming Loss", "top", "a", "Hamming loss", 1295);
drawChart("fig10b", 451, 951, f10bTicks, f10b, "Ranking Loss", "top", "b", "Ranking loss", 1295);
drawChart("fig10c", 841, 951, f10cTicks, f10c, "Coverage", "top", "c", "Coverage", 1295);
drawChart("fig10d", 51, 1331, f10dTicks, f10d, "Average precision", "bottom", "d", "Average precision", 1667);
drawChart("fig10e", 451, 1331, f10eTicks, f10e, "Macro-F1", "bottom", "e", "Macro-F1", 1667);
drawChart("fig10f", 841, 1331, f10fTicks, f10f, "Micro-F1", "bottom", "f", "Micro-F1", 1667);
</script>
</body></html>
